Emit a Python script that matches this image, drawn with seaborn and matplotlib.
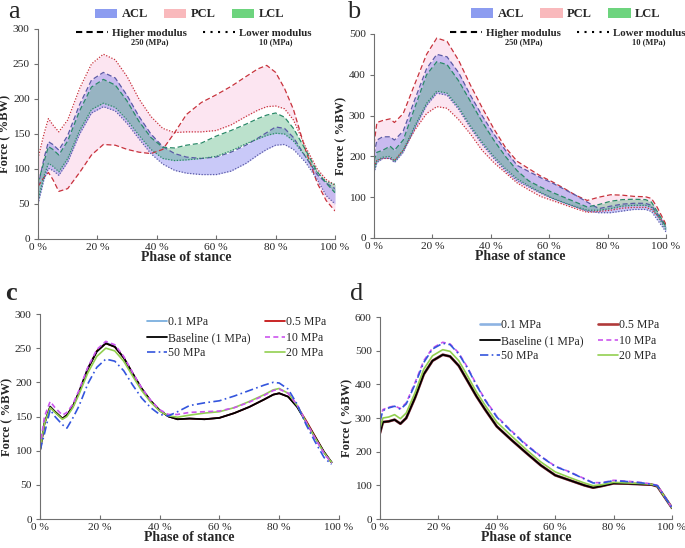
import numpy as np
import matplotlib
matplotlib.use("Agg")
import matplotlib.pyplot as plt
import seaborn as sns
from matplotlib.patches import Patch
from matplotlib.lines import Line2D

sns.set_style("ticks")
plt.rcParams['font.family'] = ['Liberation Serif', 'DejaVu Serif']

# ---------------- data: panel a ----------------
phase_a = [0, 2, 3.5, 5, 7, 10, 14, 18, 22, 26, 30, 34, 38, 42, 46, 50, 55, 60, 65, 70, 74, 77, 80, 83, 86, 90, 94, 97, 100]
acl_hi_a = [75, 115, 139, 135, 127, 148, 192, 227, 238, 230, 205, 175, 150, 132, 122, 117, 115, 117, 124, 134, 144, 152, 160, 158, 145, 118, 92, 80, 72]
acl_lo_a = [50, 85, 101, 98, 91, 110, 150, 180, 189, 183, 165, 143, 122, 107, 98, 94, 92, 92, 97, 108, 120, 128, 134, 135, 128, 110, 85, 62, 50]
lcl_hi_a = [80, 110, 132, 128, 120, 140, 183, 217, 228, 220, 197, 168, 145, 131, 130, 134, 137, 147, 155, 164, 172, 177, 180, 174, 158, 128, 96, 80, 66]
lcl_lo_a = [55, 90, 108, 104, 96, 115, 155, 185, 194, 188, 170, 148, 128, 115, 112, 113, 115, 118, 126, 136, 143, 148, 151, 150, 140, 118, 95, 82, 78]
pcl_hi_a = [75, 88, 95, 85, 68, 72, 95, 120, 135, 134, 128, 124, 122, 128, 152, 178, 195, 206, 218, 232, 243, 248, 238, 215, 185, 128, 80, 55, 40]
pcl_lo_a = [115, 150, 172, 163, 153, 170, 215, 250, 264, 256, 232, 200, 175, 158, 152, 153, 153, 155, 163, 175, 184, 189, 190, 186, 170, 132, 100, 85, 77]

# ---------------- data: panel b ----------------
phase_b = [0, 1, 3, 5.5, 7, 10, 14, 18, 21.5, 25, 29, 33, 37, 41, 45, 49, 53, 57, 61, 65, 69, 73, 77, 81, 85, 89, 93, 95, 97, 100]
pcl_hi_b = [230, 283, 288, 292, 283, 305, 378, 450, 490, 482, 435, 375, 320, 268, 222, 188, 170, 152, 138, 122, 105, 92, 100, 106, 105, 102, 101, 97, 75, 33]
acl_hi_b = [205, 240, 248, 248, 240, 262, 340, 415, 450, 444, 405, 350, 300, 255, 215, 178, 163, 148, 135, 120, 105, 88, 72, 78, 83, 85, 85, 80, 60, 27]
lcl_hi_b = [190, 210, 215, 225, 215, 240, 320, 400, 432, 425, 385, 335, 285, 240, 200, 165, 140, 125, 112, 100, 88, 76, 82, 90, 94, 95, 94, 88, 65, 28]
acl_lo_b = [160, 185, 195, 195, 185, 210, 270, 325, 355, 350, 315, 270, 230, 195, 165, 140, 125, 110, 97, 86, 76, 66, 62, 62, 66, 70, 70, 65, 45, 15]
lcl_lo_b = [165, 190, 198, 200, 188, 215, 275, 330, 360, 355, 320, 275, 235, 200, 170, 145, 128, 112, 98, 87, 77, 68, 68, 72, 78, 80, 80, 75, 55, 20]
pcl_lo_b = [175, 190, 195, 195, 190, 215, 265, 305, 322, 318, 290, 255, 215, 185, 160, 135, 118, 102, 92, 82, 72, 63, 65, 68, 73, 75, 75, 70, 55, 30]

# ---------------- data: panel c ----------------
phase_c = [0, 1.5, 3.4, 5, 7.5, 9, 11, 13, 16, 19, 22, 25, 28, 31, 34, 37, 40, 43, 46, 50, 55, 60, 65, 70, 75, 78, 80, 83, 86, 89, 92, 95, 97.5]
c_01 = [101, 141, 165, 157, 147, 152, 165, 186, 221, 246, 258, 253, 236, 213, 191, 173, 159, 150, 146, 147, 146, 148, 155, 164, 175, 182, 184, 179, 164, 142, 120, 98, 83]
c_05 = [100, 140, 164, 157, 147, 152, 165, 185, 220, 246, 257, 252, 236, 213, 191, 173, 159, 150, 146, 147, 146, 148, 155, 164, 175, 182, 184, 179, 165, 144, 121, 98, 83]
c_base = [100, 140, 164, 157, 147, 152, 165, 185, 220, 245, 257, 252, 236, 213, 191, 173, 159, 150, 146, 147, 146, 148, 155, 164, 175, 182, 184, 179, 164, 142, 120, 98, 83]
c_10 = [105, 150, 172, 163, 152, 156, 168, 188, 222, 248, 260, 255, 238, 214, 192, 174, 160, 153, 153, 156, 157, 158, 163, 171, 181, 188, 190, 184, 167, 142, 118, 96, 82]
c_20 = [100, 140, 163, 156, 146, 150, 163, 182, 214, 238, 250, 246, 231, 209, 188, 171, 158, 151, 149, 152, 155, 157, 163, 172, 182, 189, 191, 184, 166, 142, 119, 97, 83]
c_50 = [100, 125, 160, 150, 138, 133, 148, 165, 198, 222, 234, 231, 217, 196, 177, 163, 153, 151, 157, 166, 170, 173, 180, 188, 196, 200, 199, 190, 168, 138, 113, 90, 80]

# ---------------- data: panel d ----------------
phase_d = [0, 1, 3, 5, 7, 9, 12, 15, 18, 21.5, 24, 27, 30, 33, 36, 40, 45, 50, 55, 60, 65, 70, 73, 76, 80, 85, 90, 93, 95, 100]
d_01 = [256, 288, 290, 295, 283, 300, 360, 430, 470, 488, 483, 455, 410, 365, 325, 275, 235, 197, 160, 130, 115, 100, 93, 98, 106, 105, 103, 102, 97, 33]
d_05 = [255, 288, 290, 295, 283, 300, 360, 430, 470, 488, 483, 455, 410, 365, 325, 275, 235, 197, 160, 130, 115, 100, 93, 98, 106, 105, 103, 102, 97, 33]
d_base = [255, 288, 290, 295, 283, 300, 360, 430, 470, 488, 483, 455, 410, 365, 325, 275, 235, 197, 160, 130, 115, 100, 93, 98, 106, 105, 103, 102, 97, 33]
d_10 = [295, 325, 332, 336, 328, 345, 405, 470, 508, 525, 520, 493, 450, 400, 355, 305, 262, 222, 187, 157, 140, 120, 108, 108, 115, 112, 108, 104, 100, 33]
d_20 = [270, 300, 303, 310, 298, 315, 375, 445, 485, 503, 498, 470, 425, 378, 338, 288, 247, 207, 170, 140, 123, 107, 99, 102, 109, 107, 105, 103, 98, 33]
d_50 = [290, 322, 330, 335, 326, 342, 400, 465, 505, 522, 518, 490, 448, 398, 353, 303, 260, 220, 186, 156, 139, 119, 107, 107, 114, 111, 107, 103, 99, 33]

x_ticks = [0, 20, 40, 60, 80, 100]
x_ticklabels = ["0 %", "20 %", "40 %", "60 %", "80 %", "100 %"]
lig_names = ["ACL", "PCL", "LCL"]
mod_names = ["Higher modulus", "Lower modulus"]
mod_sub = ["250 (MPa)", "10 (MPa)"]
mpa_labels = ["0.1 MPa", "0.5 MPa", "Baseline (1 MPa)", "10 MPa", "50 MPa", "20 MPa"]

# ---------------- styling ----------------
ACL_FILL, PCL_FILL, LCL_FILL = '#7a7aee', '#f7b6d9', '#3caa6e'
ACL_LINE, PCL_LINE, LCL_LINE = '#5a5aa6', '#c8323c', '#2a8a68'
LEG_PATCH = ['#8c9cf0', '#f9b9bc', '#6dd47e']
DASH = (0, (4, 2.2))
DOT = (0, (1, 1.3))

fig = plt.figure(figsize=(6.85, 5.48), dpi=100)
ax_a = fig.add_axes([0.0555, 0.5639, 0.4336, 0.3832])
ax_b = fig.add_axes([0.546, 0.5657, 0.4263, 0.3723])
ax_c = fig.add_axes([0.0584, 0.0529, 0.4365, 0.3741])
ax_d = fig.add_axes([0.5547, 0.0529, 0.4263, 0.3686])


def style(ax, ymax, ystep):
    ax.set_xlim(0, 100)
    ax.set_ylim(0, ymax)
    ax.set_xticks(x_ticks)
    ax.set_xticklabels(x_ticklabels)
    ax.set_yticks(np.arange(0, ymax + 1, ystep))
    for s in ['top', 'right']:
        ax.spines[s].set_visible(False)
    for s in ['left', 'bottom']:
        ax.spines[s].set_color('#707070')
        ax.spines[s].set_linewidth(0.8)
    ax.tick_params(axis='x', direction='in', length=3, color='#707070', labelsize=8.2, pad=3)
    ax.tick_params(axis='y', direction='out', length=3, color='#707070', labelsize=8.2, pad=3)
    ax.set_xlabel('Phase of stance', fontweight='bold', fontsize=10, labelpad=-0.5)
    ax.set_ylabel('Force ( %BW)', fontweight='bold', fontsize=9, labelpad=1)


def ligament_panel(ax, ph, acl_hi, acl_lo, pcl_hi, pcl_lo, lcl_hi, lcl_lo):
    ax.fill_between(ph, pcl_hi, pcl_lo, color=PCL_FILL, alpha=0.35, lw=0)
    ax.fill_between(ph, acl_hi, acl_lo, color=ACL_FILL, alpha=0.4, lw=0)
    ax.fill_between(ph, lcl_hi, lcl_lo, color=LCL_FILL, alpha=0.35, lw=0)
    for y, c, ls in [(pcl_hi, PCL_LINE, DASH), (pcl_lo, PCL_LINE, DOT),
                     (acl_hi, ACL_LINE, DASH), (acl_lo, ACL_LINE, DOT),
                     (lcl_hi, LCL_LINE, DASH), (lcl_lo, LCL_LINE, DOT)]:
        sns.lineplot(x=ph, y=y, ax=ax, color=c, linestyle=ls, lw=0.9, sort=False, errorbar=None)


mod_legends = []


def ligament_legends(ax, patch_xy, mod_xy):
    handles = [Patch(facecolor=c, edgecolor='none') for c in LEG_PATCH]
    leg1 = ax.legend(handles, lig_names, loc='center', bbox_to_anchor=patch_xy, ncol=3, frameon=False,
                     prop={'weight': 'bold', 'size': 9}, handlelength=1.8, handleheight=0.75,
                     handletextpad=0.35, columnspacing=1.3, borderaxespad=0, borderpad=0)
    ax.add_artist(leg1)
    mh = [Line2D([], [], color='black', lw=1.5, linestyle=(0, (3, 2))),
          Line2D([], [], color='black', lw=1.5, linestyle=(0, (1, 2.6)))]
    leg2 = ax.legend(mh, mod_names, loc='center', bbox_to_anchor=mod_xy, ncol=2, frameon=False,
                     prop={'weight': 'bold', 'size': 7.8}, handlelength=2.9,
                     handletextpad=0.4, columnspacing=1.5, borderaxespad=0, borderpad=0)
    mod_legends.append(leg2)


# panel a
ligament_panel(ax_a, phase_a, acl_hi_a, acl_lo_a, pcl_hi_a, pcl_lo_a, lcl_hi_a, lcl_lo_a)
style(ax_a, 300, 50)
ligament_legends(ax_a, (0.51, 1.069), (0.525, 0.981))

# panel b
ligament_panel(ax_b, phase_b, acl_hi_b, acl_lo_b, pcl_hi_b, pcl_lo_b, lcl_hi_b, lcl_lo_b)
style(ax_b, 500, 100)
ligament_legends(ax_b, (0.657, 1.096), (0.664, 1.005))


def modulus_panel(ax, ph, s01, s05, base, s10, s20, s50, thick):
    specs = [
        (s01, mpa_labels[0], '#6fa8dc' if not thick else '#8db3e2', '-', 1.2 if not thick else 1.9),
        (s05, mpa_labels[1], '#c00000' if not thick else '#b03a3a', '-', 1.2 if not thick else 1.9),
        (base, mpa_labels[2], 'black', '-', 1.3),
        (s20, mpa_labels[5], '#92d050', '-', 1.2),
        (s10, mpa_labels[3], '#cc55ee', (0, (3, 2)), 1.2),
        (s50, mpa_labels[4], '#3355dd', (0, (5, 2, 1, 2)), 1.2),
    ]
    for y, lab, c, ls, lw in specs:
        sns.lineplot(x=ph, y=y, ax=ax, color=c, linestyle=ls, lw=lw, label=lab, sort=False, errorbar=None)
    h, l = ax.get_legend_handles_labels()
    d = dict(zip(l, h))
    order = [mpa_labels[0], mpa_labels[2], mpa_labels[4], mpa_labels[1], mpa_labels[3], mpa_labels[5]]
    ax.legend([d[k] for k in order], order, loc='upper right', bbox_to_anchor=(0.965, 1.0), ncol=2,
              frameon=False, fontsize=8.5, handlelength=1.7, handletextpad=0.1, labelspacing=0.3,
              columnspacing=1.2, borderaxespad=0, borderpad=0.2)


modulus_panel(ax_c, phase_c, c_01, c_05, c_base, c_10, c_20, c_50, False)
style(ax_c, 300, 50)
modulus_panel(ax_d, phase_d, d_01, d_05, d_base, d_10, d_20, d_50, True)
style(ax_d, 600, 100)

fig.text(8 / 685, 1 - 18 / 548, 'a', fontsize=19, va='baseline')
fig.text(347 / 685, 1 - 18 / 548, 'b', fontsize=19, va='baseline')
fig.text(5 / 685, 1 - 300 / 548, 'c', fontsize=19, fontweight='bold', va='baseline')
fig.text(350 / 685, 1 - 300 / 548, 'd', fontsize=19, va='baseline')

# sub-captions under the modulus legend entries (placed after layout is known)
fig.canvas.draw()
for leg in mod_legends:
    for t, s in zip(leg.get_texts(), mod_sub):
        bb = t.get_window_extent()
        cx, cy = fig.transFigure.inverted().transform(((bb.x0 + bb.x1) / 2, bb.y0 - 0.5))
        fig.text(cx, cy, s, ha='center', va='top', fontsize=6, fontweight='bold')

fig.savefig('out.png', dpi=100)
